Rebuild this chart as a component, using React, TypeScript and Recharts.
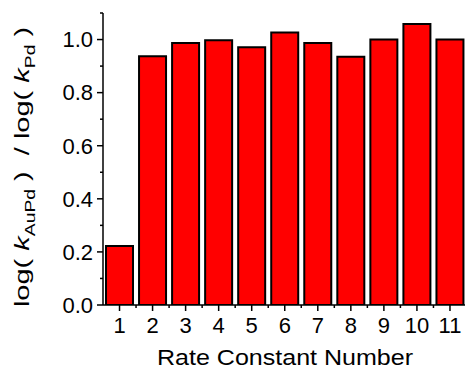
import React from 'react';
import { BarChart, Bar, XAxis, YAxis } from 'recharts';

const rateNumbers = [1, 2, 3, 4, 5, 6, 7, 8, 9, 10, 11];
const ratios = [0.222, 0.937, 0.987, 0.997, 0.971, 1.027, 0.987, 0.935, 1.0, 1.059, 1.0];
const yTicks = [0, 0.1, 0.2, 0.3, 0.4, 0.5, 0.6, 0.7, 0.8, 0.9, 1.0, 1.1];
const yTickLabels = ['0.0', '', '0.2', '', '0.4', '', '0.6', '', '0.8', '', '1.0', ''];
const xTicks = [1, 1.5, 2, 2.5, 3, 3.5, 4, 4.5, 5, 5.5, 6, 6.5, 7, 7.5, 8, 8.5, 9, 9.5, 10, 10.5, 11];

const data = rateNumbers.map((n, i) => ({ n, ratio: ratios[i] }));

const FONT = '"Liberation Sans", Arial, sans-serif';

const XTick = ({ x, y, payload }: any) => {
  const major = Number.isInteger(payload.value);
  return (
    <g>
      <line x1={x} x2={x} y1={y} y2={y + (major ? 6 : 3)} stroke="#000" strokeWidth={1.5} />
      {major && (
        <text x={x} y={y + 28} textAnchor="middle" fontSize={22} fontFamily={FONT} fill="#000">
          {payload.value}
        </text>
      )}
    </g>
  );
};

const YTick = ({ x, y, payload, index }: any) => {
  const label = yTickLabels[index];
  return (
    <g>
      <line x1={x} x2={x - (label ? 6 : 3)} y1={y} y2={y} stroke="#000" strokeWidth={1.5} />
      {label && (
        <text x={x - 10} y={y + 7.8} textAnchor="end" fontSize={22} fontFamily={FONT} fill="#000">
          {label}
        </text>
      )}
    </g>
  );
};

const YLabel = () => (
  <text
    transform="translate(28.5,167) rotate(-90) scale(1.38,1)"
    textAnchor="middle"
    fontSize={21}
    fontFamily={FONT}
    fill="#000"
    style={{ whiteSpace: 'pre' }}
  >
    <tspan>{'log( '}</tspan>
    <tspan fontStyle="italic">k</tspan>
    <tspan fontSize={14} dy={6}>AuPd</tspan>
    <tspan dy={-6}>{' )  / log( '}</tspan>
    <tspan fontStyle="italic">k</tspan>
    <tspan fontSize={14} dy={6}>Pd</tspan>
    <tspan dy={-6}>{' )'}</tspan>
  </text>
);

const XLabel = () => (
  <text
    x={285}
    y={365}
    textAnchor="middle"
    fontSize={22}
    fontFamily={FONT}
    fill="#000"
    textLength={256}
    lengthAdjust="spacingAndGlyphs"
  >
    Rate Constant Number
  </text>
);

export default function App() {
  return (
    <div style={{ position: 'absolute', left: 0, top: 0, width: 465, height: 370, overflow: 'hidden' }}>
      <BarChart
        width={478}
        height={370}
        data={data}
        margin={{ top: 13, right: 11.5, bottom: 0, left: 0 }}
      >
        <XAxis
          dataKey="n"
          type="number"
          domain={[0.5, 11.5]}
          ticks={xTicks}
          interval={0}
          height={65}
          tickSize={0}
          tickMargin={0}
          tickLine={false}
          tick={(p: any) => <XTick {...p} />}
          axisLine={{ stroke: '#000', strokeWidth: 1.5 }}
          allowDataOverflow
          label={{ content: () => <XLabel /> }}
        />
        <YAxis
          type="number"
          domain={[0, 1.1]}
          ticks={yTicks}
          interval={0}
          width={103}
          tickSize={0}
          tickMargin={0}
          tickLine={false}
          tick={(p: any) => <YTick {...p} />}
          axisLine={{ stroke: '#000', strokeWidth: 1.5 }}
          allowDataOverflow
          label={{ content: () => <YLabel /> }}
        />
        <Bar
          dataKey="ratio"
          barSize={27}
          fill="#ff0000"
          stroke="#000"
          strokeWidth={2}
          isAnimationActive={false}
        />
      </BarChart>
    </div>
  );
}
